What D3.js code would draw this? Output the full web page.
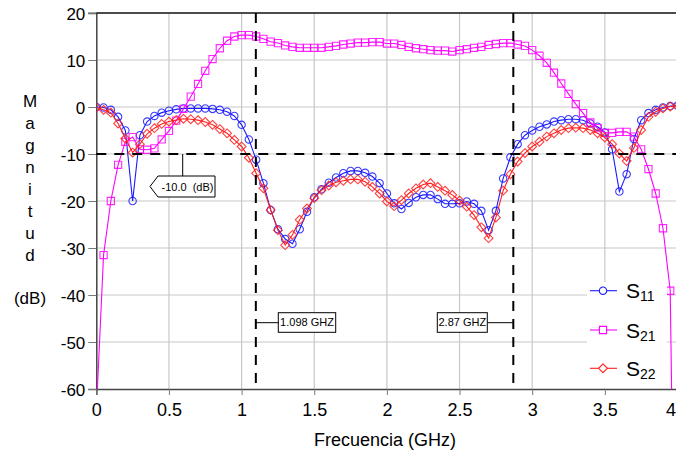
<!DOCTYPE html>
<html>
<head>
<meta charset="utf-8">
<script src="https://cdn.jsdelivr.net/npm/d3@7"></script>
<style>
  body { margin: 0; background: #fff; }
  svg { display: block; }
  text { font-family: "Liberation Sans", Arial, sans-serif; fill: #000; }
</style>
</head>
<body>
<svg id="chart" width="676" height="454"></svg>
<script>
// Sweep frequencies (GHz)
const freq = [0.00,0.05,0.10,0.15,0.20,0.25,0.30,0.35,0.40,0.45,0.50,0.55,0.60,0.65,0.70,0.75,0.80,0.85,0.90,0.95,
  1.00,1.05,1.10,1.15,1.20,1.25,1.30,1.35,1.40,1.45,1.50,1.55,1.60,1.65,1.70,1.75,1.80,1.85,1.90,1.95,
  2.00,2.05,2.10,2.15,2.20,2.25,2.30,2.35,2.40,2.45,2.50,2.55,2.60,2.65,2.70,2.75,2.80,2.85,2.90,2.95,
  3.00,3.05,3.10,3.15,3.20,3.25,3.30,3.35,3.40,3.45,3.50,3.55,3.60,3.65,3.70,3.75,3.80,3.85,3.90,3.95,4.00];

// |S11| in dB
const s11 = [0.0,-0.1,-0.6,-2.1,-5.0,-20.0,-6.0,-3.1,-1.9,-1.2,-0.8,-0.5,-0.3,-0.3,-0.3,-0.3,-0.4,-0.6,-1.0,-1.9,
  -3.8,-6.9,-11.2,-16.2,-21.9,-26.0,-28.1,-29.1,-26.0,-22.3,-19.2,-17.5,-16.1,-15.0,-14.1,-13.6,-13.6,-14.0,-14.8,-16.2,
  -18.4,-20.5,-21.7,-20.4,-19.2,-18.7,-18.7,-19.6,-20.6,-20.6,-20.5,-20.1,-20.6,-22.1,-26.2,-22.1,-15.2,-10.7,-7.9,-6.0,
  -5.0,-4.2,-3.7,-3.1,-2.8,-2.6,-2.6,-2.8,-3.5,-4.2,-5.4,-9.0,-18.0,-14.3,-6.8,-2.8,-1.3,-0.6,-0.1,0.2,0.3];

// |S21| in dB
const s21 = [-65.0,-31.5,-20.0,-12.3,-7.4,-6.4,-9.0,-9.1,-8.8,-6.9,-5.1,-2.9,-0.4,2.2,4.9,7.7,10.2,12.5,14.1,15.0,
  15.3,15.3,15.0,14.5,13.9,13.6,13.1,12.8,12.6,12.6,12.6,12.6,12.8,13.0,13.3,13.5,13.7,13.7,13.8,13.8,
  13.5,13.5,13.2,12.8,12.5,12.3,12.1,12.0,12.0,11.8,12.1,12.3,12.6,12.8,13.2,13.4,13.6,13.6,13.3,13.0,
  12.1,10.9,9.4,7.3,5.0,2.8,0.6,-1.3,-3.3,-4.5,-5.5,-5.5,-5.3,-5.3,-6.3,-9.0,-13.2,-18.4,-25.8,-39.1,-150.0];

// |S22| in dB
const s22 = [-0.1,-0.6,-1.2,-3.5,-6.7,-9.7,-7.9,-5.7,-4.5,-3.6,-3.1,-2.8,-2.5,-2.6,-2.8,-3.2,-3.8,-4.7,-5.6,-7.0,
  -8.4,-10.8,-14.1,-17.3,-21.9,-26.2,-29.4,-27.2,-24.0,-21.6,-19.4,-17.7,-16.7,-16.0,-15.7,-15.4,-15.4,-15.9,-17.0,-18.4,
  -20.1,-21.1,-19.8,-18.4,-17.3,-16.5,-16.2,-17.0,-17.8,-18.7,-19.9,-21.2,-23.0,-25.6,-27.9,-23.5,-17.8,-14.3,-11.6,-9.8,
  -8.4,-7.4,-6.3,-5.6,-4.9,-4.5,-4.4,-4.5,-4.9,-5.6,-6.5,-7.9,-9.9,-11.5,-8.7,-4.9,-2.1,-1.0,-0.3,0.1,0.2];

const xTicks = [0,0.5,1,1.5,2,2.5,3,3.5,4];
const xTickLabels = ["0","0.5","1","1.5","2","2.5","3","3.5","4"];
const yTicks = [20,10,0,-10,-20,-30,-40,-50,-60];
const yTickLabels = ["20","10","0","-10","-20","-30","-40","-50","-60"];

const bandEdges = [1.098, 2.87];
const bandEdgeLabels = ["1.098 GHZ", "2.87 GHZ"];
const refLevel = -10.0;
const refLabel = "-10.0  (dB)";

const yTitleLetters = ["M","a","g","n","i","t","u","d"];

const svg = d3.select("#chart");
const W = 676, H = 454;
const plot = { left: 96.3, right: 677.5, top: 13, bottom: 389 };

const x = d3.scaleLinear().domain([0, 4]).range([plot.left, plot.right]);
const y = d3.scaleLinear().domain([-60, 20]).range([plot.bottom, plot.top]);

svg.append("rect").attr("width", W).attr("height", H).attr("fill", "#fff");

// Grid
const grid = svg.append("g").attr("stroke", "#c8c8c8").attr("stroke-width", 1.2);
grid.selectAll("line.v").data(xTicks.slice(1, -1)).join("line")
  .attr("x1", d => x(d)).attr("x2", d => x(d))
  .attr("y1", plot.top).attr("y2", plot.bottom);
grid.selectAll("line.h").data(yTicks.slice(1, -1)).join("line")
  .attr("x1", plot.left).attr("x2", plot.right)
  .attr("y1", d => y(d)).attr("y2", d => y(d));

// Axes
const yAxis = d3.axisLeft(y).tickValues(yTicks).tickSize(8)
  .tickFormat((d, i) => yTickLabels[i]);
const gy = svg.append("g").attr("transform", `translate(${plot.left},0)`).call(yAxis);
gy.select(".domain").attr("stroke", "#444").attr("stroke-width", 1.5);
gy.selectAll(".tick line").attr("stroke", "#777");
gy.selectAll(".tick text").attr("x", -11).attr("dy", "0.36em")
  .style("font-size", "17px").style("font-family", '"Liberation Sans", Arial, sans-serif');

const xAxis = d3.axisBottom(x).tickValues(xTicks).tickSize(6)
  .tickFormat((d, i) => xTickLabels[i]);
const gx = svg.append("g").attr("transform", `translate(0,${plot.bottom})`).call(xAxis);
gx.select(".domain").attr("stroke", "#444").attr("stroke-width", 1.5);
gx.selectAll(".tick line").attr("stroke", "#777");
gx.selectAll(".tick text").attr("y", 14).attr("dy", "0.71em")
  .style("font-size", "18px").style("font-family", '"Liberation Sans", Arial, sans-serif');
// The last label sits at the right edge of the page: keep it inside
gx.selectAll(".tick text").filter(d => d === 4)
  .attr("text-anchor", "end").attr("x", W - plot.right - 0.5);

// Top frame
svg.append("line").attr("x1", plot.left).attr("x2", plot.right)
  .attr("y1", plot.top).attr("y2", plot.top)
  .attr("stroke", "#111").attr("stroke-width", 1.5);
svg.append("line").attr("x1", plot.left - 8).attr("x2", plot.left)
  .attr("y1", plot.top).attr("y2", plot.top).attr("stroke", "#777");

// Axis titles
svg.append("text").attr("x", 385).attr("y", 446).attr("text-anchor", "middle")
  .style("font-size", "18px").text("Frecuencia (GHz)");
const yt = svg.append("g");
yt.selectAll("text").data(yTitleLetters).join("text")
  .attr("x", 30).attr("y", (d, i) => 107 + 22 * i)
  .attr("text-anchor", "middle").style("font-size", "17px").text(d => d);
yt.append("text").attr("x", 30).attr("y", 304).attr("text-anchor", "middle")
  .style("font-size", "17px").text("(dB)");

// Clip for data
svg.append("clipPath").attr("id", "plotClip").append("rect")
  .attr("x", plot.left).attr("y", plot.top)
  .attr("width", plot.right - plot.left).attr("height", plot.bottom - plot.top);

const series = [
  { name: "11", values: s11, color: "#1a1aff", marker: "circle" },
  { name: "21", values: s21, color: "#ff00ff", marker: "square" },
  { name: "22", values: s22, color: "#ff2020", marker: "diamond" }
];

function markerPath(type) {
  if (type === "circle") return d3.symbol(d3.symbolCircle, Math.PI * 3.7 * 3.7)();
  if (type === "square") return "M-3.6,-3.6H3.6V3.6H-3.6Z";
  return "M0,-4.4L4.4,0L0,4.4L-4.4,0Z";
}

const dataG = svg.append("g").attr("clip-path", "url(#plotClip)");
const line = d3.line().x(d => x(d[0])).y(d => y(d[1]));

series.forEach(s => {
  const pts = freq.map((f, i) => [f, s.values[i]]);
  const g = dataG.append("g");
  g.append("path").attr("d", line(pts)).attr("fill", "none")
    .attr("stroke", s.color).attr("stroke-width", 1.1);
  g.selectAll("path.m").data(pts).join("path").attr("class", "m")
    .attr("d", markerPath(s.marker))
    .attr("transform", d => `translate(${x(d[0])},${y(d[1])})`)
    .attr("fill", "none").attr("stroke", s.color).attr("stroke-width", 1.1)
    .attr("stroke-opacity", 0.85);
});

// Reference level and band edges
const dash = "10,8";
svg.append("line").attr("x1", plot.left).attr("x2", plot.right)
  .attr("y1", y(refLevel)).attr("y2", y(refLevel))
  .attr("stroke", "#000").attr("stroke-width", 2).attr("stroke-dasharray", dash);
svg.selectAll("line.edge").data(bandEdges).join("line").attr("class", "edge")
  .attr("x1", d => x(d)).attr("x2", d => x(d))
  .attr("y1", plot.top).attr("y2", plot.bottom)
  .attr("stroke", "#000").attr("stroke-width", 2).attr("stroke-dasharray", dash);

// Reference level callout
const rc = { tip: 150, left: 158, right: 215, top: 176, bottom: 197, stem: 182.7 };
svg.append("line").attr("x1", rc.stem).attr("x2", rc.stem)
  .attr("y1", y(refLevel)).attr("y2", rc.top).attr("stroke", "#000").attr("stroke-width", 1);
svg.append("path")
  .attr("d", `M${rc.tip},${(rc.top + rc.bottom) / 2}L${rc.left},${rc.top}H${rc.right}V${rc.bottom}H${rc.left}Z`)
  .attr("fill", "#fff").attr("stroke", "#000").attr("stroke-width", 1);
svg.append("text").attr("x", (rc.left + rc.right) / 2 + 1).attr("y", rc.bottom - 6.5)
  .attr("text-anchor", "middle").style("font-size", "11px").style("white-space", "pre")
  .text(refLabel);

// Band edge callouts
const boxes = [
  { left: 278.3, right: 335.7 },
  { left: 437.3, right: 487.3 }
];
const boxTop = 312.7, boxBottom = 332.3, boxMid = 322.7;
bandEdges.forEach((f, i) => {
  const b = boxes[i];
  const ex = x(f);
  const near = ex < b.left ? b.left : b.right;
  svg.append("line").attr("x1", ex).attr("x2", near)
    .attr("y1", boxMid).attr("y2", boxMid).attr("stroke", "#000").attr("stroke-width", 1);
  svg.append("rect").attr("x", b.left).attr("y", boxTop)
    .attr("width", b.right - b.left).attr("height", boxBottom - boxTop)
    .attr("fill", "#fff").attr("stroke", "#000").attr("stroke-width", 1);
  svg.append("text").attr("x", (b.left + b.right) / 2).attr("y", boxBottom - 6)
    .attr("text-anchor", "middle").style("font-size", "11px").text(bandEdgeLabels[i]);
});

// Legend
const lg = svg.append("g");
lg.append("rect").attr("x", 587).attr("y", 282).attr("width", 80).attr("height", 106).attr("fill", "#fff");
const rowY = [290.7, 330, 368.3];
series.forEach((s, i) => {
  const yy = rowY[i];
  lg.append("line").attr("x1", 590).attr("x2", 617).attr("y1", yy).attr("y2", yy)
    .attr("stroke", s.color).attr("stroke-width", 1.1);
  lg.append("path").attr("d", markerPath(s.marker))
    .attr("transform", `translate(603,${yy})`)
    .attr("fill", "#fff").attr("stroke", s.color).attr("stroke-width", 1.1);
  const t = lg.append("text").attr("x", 626).attr("y", yy + 7.5).style("font-size", "21px");
  t.append("tspan").text("S");
  t.append("tspan").attr("dy", 3).style("font-size", "14px").text(s.name);
});
</script>
</body>
</html>
